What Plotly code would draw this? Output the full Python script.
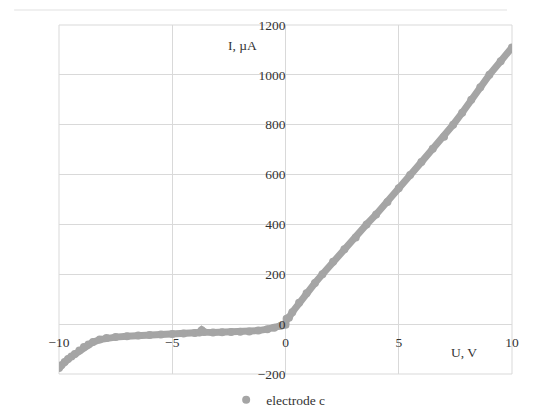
import plotly.graph_objects as go

# I-V curve
voltage = [-10, -9.9, -9.75, -9.6, -9.45, -9.3, -9.1, -8.9, -8.7, -8.5, -8.2, -7.9,
           -7.5, -7, -6.5, -6, -5.5, -5, -4.5, -4, -3.8, -3.7, -3.6, -3.2, -2.8,
           -2.4, -2, -1.6, -1.2, -0.8, -0.5, -0.2, 0, 0.05, 0.15, 0.3, 0.6, 0.93,
           1.3, 1.63, 2.1, 2.6, 3.1, 3.58, 4.0, 4.5, 5.0, 5.5, 6.0, 6.5, 7.0, 7.4,
           7.8, 8.2, 8.6, 9.0, 9.5, 10]
current = [-176, -165, -152, -140, -130, -120, -106, -92, -82, -72, -62, -56,
           -52, -49, -46, -44, -42, -40, -38, -36, -34, -24, -32, -34, -33,
           -32, -31, -30, -26, -20, -14, -6, -2, 22, 26, 48, 86, 124,
           165, 200, 250, 300, 348, 400, 440, 490, 545, 598, 650, 704, 752, 800,
           848, 900, 950, 1000, 1055, 1110]

series_name = "electrode c"
x_ticks = [-10, -5, 0, 5, 10]
y_ticks = [-200, 0, 200, 400, 600, 800, 1000, 1200]

grey = "#A5A5A5"
grid = "#D9D9D9"
font = dict(family="Liberation Serif, DejaVu Serif, serif", size=13.5, color="#333333")

fig = go.Figure()
# thick band joining the dense markers
fig.add_trace(go.Scatter(x=voltage, y=current, mode="lines",
                         line=dict(color=grey, width=7), showlegend=False,
                         hoverinfo="skip"))
fig.add_trace(go.Scatter(x=voltage, y=current, mode="markers", name=series_name,
                         marker=dict(color=grey, size=8)))

fig.update_layout(
    width=550, height=410,
    margin=dict(l=51, r=46, t=17, b=44, autoexpand=False),
    paper_bgcolor="white", plot_bgcolor="white",
    font=font,
    showlegend=True,
    legend=dict(orientation="h", x=0.369, y=-0.03, xanchor="left", yanchor="top",
                font=font, bgcolor="rgba(0,0,0,0)"),
    xaxis=dict(range=[-10, 10], tickvals=x_ticks,
               ticktext=[str(v).replace("-", "\u2212") for v in x_ticks],
               showgrid=True, gridcolor=grid, gridwidth=1,
               zeroline=False, showline=False, ticks="", ticklabelstandoff=8,
               anchor="free", position=200 / 1400),
    yaxis=dict(range=[-200, 1200], tickvals=y_ticks,
               ticktext=[str(v).replace("-", "\u2212") for v in y_ticks],
               showgrid=True, gridcolor=grid, gridwidth=1,
               zeroline=False, showline=False, ticks="",
               anchor="free", position=0.5),
    annotations=[
        dict(x=-1.9, y=1116, text="I, \u00b5A", showarrow=False, font=font),
        dict(x=7.9, y=-112, text="U, V", showarrow=False, font=font),
    ],
    shapes=[
        dict(type="rect", xref="paper", yref="paper", x0=0, x1=1, y0=0, y1=1,
             line=dict(color=grid, width=1), layer="below"),
        dict(type="line", xref="paper", yref="paper", x0=-0.099, x1=0.989,
             y0=1.043, y1=1.043, line=dict(color="#EBEBEB", width=1.5)),
    ],
)

fig.write_html("out.html")
